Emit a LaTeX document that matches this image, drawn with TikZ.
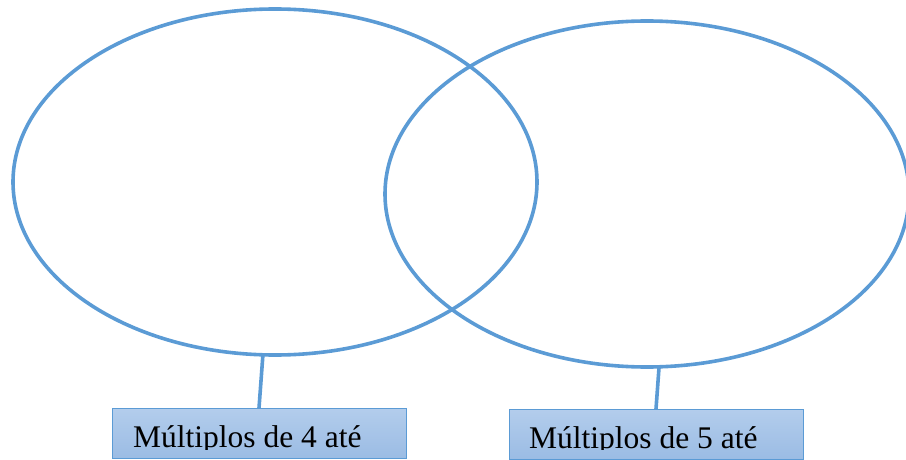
\documentclass[tikz,border=0pt]{standalone}
\usepackage{fontspec}
\setmainfont{Liberation Serif}
\usetikzlibrary{shapes.geometric}
\definecolor{vennblue}{HTML}{5B9BD5}
\definecolor{boxtop}{HTML}{B3CDEC}
\definecolor{boxbot}{HTML}{9BBCE4}
\begin{document}
\begin{tikzpicture}[x=1pt,y=-1pt,
  venn/.style={ellipse,draw=vennblue,line width=3.6pt,inner sep=0pt,outer sep=0pt,
    minimum width=524pt,minimum height=346pt},
  labelbox/.style={draw=vennblue,line width=1pt,top color=boxtop,bottom color=boxbot,
    inner sep=0pt,outer sep=0pt,minimum width=294pt,minimum height=50pt},
  link/.style={draw=vennblue,line width=3.6pt},
  labeltext/.style={anchor=base west,inner sep=0pt,font=\fontsize{31.5}{36}\selectfont}]
\useasboundingbox (0,0) rectangle (906,460);
\clip (0,0) rectangle (906,460);
\node[venn] (L) at (275,182) {};
\node[venn] (R) at (647,194) {};
\node[labelbox] (bL) at (259,433) {};
\node[labelbox] (bR) at (656,434) {};
\draw[link] (L.-94.3) -- (bL.north);
\draw[link] (R.-86) -- (bR.north);
\begin{scope}
\clip (112,400) rectangle (806,449);
\node[labeltext] (tL) at (133,447) {Múltiplos de 4 até};
\node[labeltext] (tR) at (529,448) {Múltiplos de 5 até};
\end{scope}
\end{tikzpicture}
\end{document}
